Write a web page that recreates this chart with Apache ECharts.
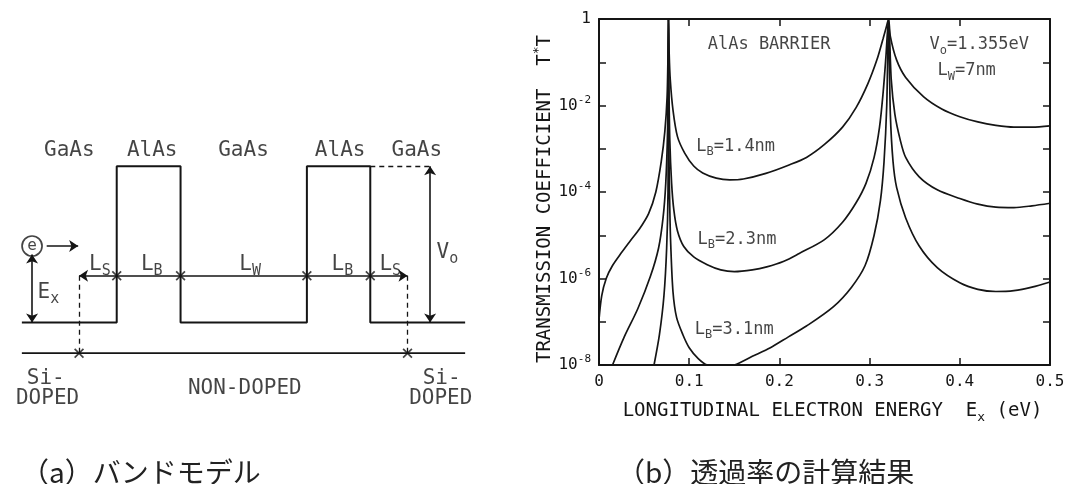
<!DOCTYPE html>
<html>
<head>
<meta charset="utf-8">
<script src="https://cdn.jsdelivr.net/npm/echarts@6/dist/echarts.min.js"></script>
<style>
html, body { margin: 0; padding: 0; background: #fff; }
#chart { width: 1083px; height: 484px; }
</style>
</head>
<body>
<div id="chart"></div>
<script>
// ===== (b) 透過率: energy (eV) / log10(T*T) =====
const energy14 = [0, 0.003, 0.008, 0.015, 0.025, 0.035, 0.045, 0.055, 0.063, 0.069, 0.073, 0.0755, 0.0765, 0.077,
  0.0778, 0.079, 0.082, 0.087, 0.095, 0.105, 0.115, 0.13, 0.145, 0.16, 0.185, 0.21, 0.23, 0.25, 0.27, 0.285, 0.298, 0.308, 0.315, 0.319, 0.321,
  0.323, 0.33, 0.34, 0.36, 0.38, 0.40, 0.42, 0.44, 0.46, 0.48, 0.5]
const logT14 = [-6.95, -6.4, -6.0, -5.7, -5.4, -5.12, -4.85, -4.5, -4.0, -3.3, -2.6, -1.8, -0.8, 0,
  -0.8, -1.4, -2.1, -2.72, -3.1, -3.4, -3.56, -3.68, -3.72, -3.7, -3.57, -3.38, -3.2, -2.9, -2.5, -2.05, -1.5, -0.95, -0.45, -0.15, 0,
  -0.4, -0.95, -1.35, -1.8, -2.08, -2.26, -2.38, -2.46, -2.5, -2.5, -2.47]

const energy23 = [0.015, 0.028, 0.043, 0.057, 0.066, 0.071, 0.074, 0.076, 0.0765, 0.077,
  0.0775, 0.0785, 0.0805, 0.083, 0.087, 0.094, 0.105, 0.12, 0.135, 0.15,
  0.17, 0.186, 0.205, 0.222, 0.25, 0.27, 0.285, 0.296, 0.305, 0.311,
  0.315, 0.318, 0.321, 0.324, 0.328, 0.334, 0.34, 0.355, 0.375, 0.40,
  0.42, 0.44, 0.46, 0.48, 0.5]
const logT23 = [-8, -7.35, -6.7, -5.95, -5.3, -4.6, -3.8, -2.6, -1.5, 0,
  -1.5, -2.8, -3.8, -4.42, -4.9, -5.26, -5.5, -5.68, -5.8, -5.84,
  -5.8, -5.73, -5.6, -5.42, -5.1, -4.7, -4.25, -3.8, -3.2, -2.5,
  -1.7, -0.9, 0, -1.4, -2.2, -2.8, -3.2, -3.65, -3.95, -4.15,
  -4.28, -4.35, -4.36, -4.32, -4.26]

const energy31 = [0.061, 0.067, 0.072, 0.075, 0.0765, 0.077, 0.0775, 0.0785, 0.0795, 0.082,
  0.086, 0.093, 0.1, 0.11, 0.12, 0.135, 0.15, 0.17, 0.19, 0.21,
  0.23, 0.26, 0.28, 0.295, 0.305, 0.312, 0.316, 0.319, 0.321, 0.323,
  0.326, 0.33, 0.34, 0.355, 0.375, 0.40, 0.42, 0.44, 0.46, 0.48, 0.5]
const logT31 = [-8, -7.3, -6.4, -5.3, -4.0, 0, -3.0, -4.4, -5.2, -6.3,
  -6.9, -7.3, -7.6, -7.85, -8, -8.05, -8, -7.8, -7.6, -7.35,
  -7.1, -6.65, -6.2, -5.7, -5.0, -4.2, -3.3, -2.0, 0, -2.2,
  -3.3, -3.9, -4.6, -5.25, -5.75, -6.1, -6.25, -6.3, -6.28, -6.2, -6.08]

const xTickLabels = ['0', '0.1', '0.2', '0.3', '0.4', '0.5']
// index = -exponent
const yTickLabels = ['1', '', '10^{-2}', '', '10^{-4}', '', '10^{-6}', '', '10^{-8}']

// [text, energy, log10 T] (label centres)
const plotNotes = [
  ['AlAs BARRIER', 0.1886, -0.6],
  ['V_{o}=1.355eV', 0.4215, -0.6],
  ['L_{W}=7nm', 0.4076, -1.2],
  ['L_{B}=1.4nm', 0.1515, -2.95],
  ['L_{B}=2.3nm', 0.153, -5.1],
  ['L_{B}=3.1nm', 0.150, -7.17],
]

// ===== (a) バンドモデル: schematic position (0..100) / energy (Vo = 1) =====
const bandX = [0, 21.4, 21.4, 35.8, 35.8, 64.3, 64.3, 78.6, 78.6, 100]
const bandE = [0, 0, 1, 1, 0, 0, 1, 1, 0, 0]
const dimE = 0.30            // L_S / L_B / L_W dimension line
const dopeE = -0.196         // doping line
const spacerX = [12.9, 87.0] // ends of the non-doped region
const voX = 92.1
const exX = 2.3
const exTop = 0.435
const electron = [2.3, 0.49]
const electronArrow = [5.6, 12.7]
const crossMarks = [[21.4, dimE], [35.8, dimE], [64.3, dimE], [78.6, dimE], [12.9, dopeE], [87.0, dopeE]]
const diagramLabels = [
  ['GaAs', 10.7, 1.10], ['AlAs', 29.4, 1.10], ['GaAs', 50.0, 1.10], ['AlAs', 71.8, 1.10], ['GaAs', 89.1, 1.10],
  ['L_{S}', 17.6, 0.37], ['L_{B}', 29.3, 0.37], ['L_{W}', 51.5, 0.37], ['L_{B}', 72.3, 0.37], ['L_{S}', 83.1, 0.37],
  ['E_{x}', 6.0, 0.19], ['V_{o}', 96.0, 0.447],
  ['Si-', 5.4, -0.355], ['DOPED', 5.8, -0.483],
  ['NON-DOPED', 50.3, -0.42],
  ['Si-', 94.7, -0.355], ['DOPED', 94.5, -0.483],
]

const captions = ['（a）バンドモデル', '（b）透過率の計算結果']

const INK = '#151515'
const FONT = '"DejaVu Sans Mono", monospace'

// 'L_{B}=1.4nm' -> rich text tokens
function toRich(s) {
  let out = ''
  let last = 0
  s.replace(/([_^])\{([^}]*)\}/g, (m, k, t, i) => {
    if (i > last) out += `{m|${s.slice(last, i)}}`
    out += `{${k === '_' ? 's' : 'p'}|${t}}`
    last = i + m.length
    return m
  })
  if (last < s.length) out += `{m|${s.slice(last)}}`
  return out
}

function richStyles(size) {
  const small = Math.round(size * 0.7)
  return {
    m: { fontSize: size, fontFamily: FONT, color: INK, padding: [3, 0, 3, 0] },
    s: { fontSize: small, fontFamily: FONT, color: INK, verticalAlign: 'bottom' },
    p: { fontSize: small, fontFamily: FONT, color: INK, verticalAlign: 'top' },
  }
}

function textSeries(rows, xIdx, yIdx, size) {
  return {
    type: 'scatter',
    xAxisIndex: xIdx,
    yAxisIndex: yIdx,
    silent: true,
    symbolSize: 1,
    itemStyle: { color: 'transparent' },
    data: rows.map(r => ({ value: [r[1], r[2]], name: r[0] })),
    label: {
      show: true,
      position: 'inside',
      formatter: p => toRich(p.name),
      rich: richStyles(size),
    },
  }
}

const arrow = (a, b, heads) => [
  { coord: a, symbol: heads[0], symbolSize: 9 },
  { coord: b, symbol: heads[1], symbolSize: 9 },
]

const chart = echarts.init(document.getElementById('chart'))

const plotAxisX = (pos, labels) => ({
  gridIndex: 1, type: 'value', position: pos, min: 0, max: 0.5, interval: 0.1,
  axisLine: { onZero: false, lineStyle: { color: INK, width: 2 } },
  axisTick: { inside: true, length: 7, lineStyle: { color: INK, width: 1.5 } },
  axisLabel: labels
    ? { show: true, margin: 9, fontSize: 16, fontFamily: FONT, color: INK, formatter: v => xTickLabels[Math.round(v * 10)] }
    : { show: false },
  splitLine: { show: false },
})

const plotAxisY = (pos, labels) => ({
  gridIndex: 1, type: 'value', position: pos, min: -8, max: 0, interval: 1,
  axisLine: { onZero: false, lineStyle: { color: INK, width: 2 } },
  axisTick: { inside: true, length: 7, lineStyle: { color: INK, width: 1.5 } },
  axisLabel: labels
    ? { show: true, margin: 8, formatter: v => toRich(yTickLabels[Math.round(-v)]), rich: richStyles(16) }
    : { show: false },
  splitLine: { show: false },
})

const curve = (xs, ys) => ({
  type: 'line', xAxisIndex: 1, yAxisIndex: 1, silent: true,
  data: xs.map((x, i) => [x, ys[i]]),
  symbol: 'none', smooth: 0.3, clip: true,
  lineStyle: { color: INK, width: 1.7 },
})

const captionStyle = { fontFamily: '"Noto Sans CJK JP"', fontSize: 28, fontWeight: 'normal', color: '#222' }

const option = {
  animation: false,
  backgroundColor: '#fff',
  title: [
    { text: captions[0], left: 21, top: 458, padding: 0, textStyle: captionStyle },
    { text: captions[1], left: 617, top: 458, padding: 0, textStyle: captionStyle },
  ],
  grid: [
    { left: 13, top: 135, width: 461, height: 297 },
    { left: 599, top: 19, width: 451, height: 346 },
  ],
  xAxis: [
    { gridIndex: 0, type: 'value', min: -2, max: 102, show: false },
    Object.assign(plotAxisX('bottom', true), {
      name: toRich('LONGITUDINAL ELECTRON ENERGY  E_{x} (eV)'),
      nameLocation: 'middle', nameGap: 34,
      nameTextStyle: { rich: richStyles(19), padding: [0, 0, 0, 16] },
    }),
    plotAxisX('top', false),
  ],
  yAxis: [
    { gridIndex: 0, type: 'value', min: -0.7, max: 1.2, show: false },
    Object.assign(plotAxisY('left', true), {
      name: toRich('TRANSMISSION COEFFICIENT  T^{*}T'),
      nameLocation: 'middle', nameGap: 35, nameRotate: 90,
      nameTextStyle: { rich: richStyles(19), padding: [0, 14, 0, 0] },
    }),
    plotAxisY('right', false),
  ],
  series: [
    // band profile + arrows
    {
      type: 'line', xAxisIndex: 0, yAxisIndex: 0, silent: true,
      data: bandX.map((x, i) => [x, bandE[i]]),
      symbol: 'none', lineStyle: { color: INK, width: 2 },
      markLine: {
        silent: true,
        label: { show: false },
        lineStyle: { color: INK, width: 1.6, type: 'solid' },
        data: [
          arrow([spacerX[0], dimE], [spacerX[1], dimE], ['arrow', 'arrow']),
          arrow([voX, 0], [voX, 1], ['arrow', 'arrow']),
          arrow([exX, 0], [exX, exTop], ['arrow', 'arrow']),
          arrow([electronArrow[0], electron[1]], [electronArrow[1], electron[1]], ['none', 'arrow']),
        ],
      },
    },
    // doping line
    {
      type: 'line', xAxisIndex: 0, yAxisIndex: 0, silent: true,
      data: [[0, dopeE], [100, dopeE]],
      symbol: 'none', lineStyle: { color: INK, width: 1.8 },
      markLine: {
        silent: true, symbol: 'none',
        label: { show: false },
        lineStyle: { color: INK, width: 1.3, type: [5, 4] },
        data: [
          [{ coord: [spacerX[0], dimE] }, { coord: [spacerX[0], dopeE] }],
          [{ coord: [spacerX[1], dimE] }, { coord: [spacerX[1], dopeE] }],
          [{ coord: [bandX[7], 1] }, { coord: [voX, 1] }],
        ],
      },
    },
    // boundary crosses
    {
      type: 'scatter', xAxisIndex: 0, yAxisIndex: 0, silent: true,
      data: crossMarks,
      symbol: 'path://M0,1.2L1.2,0L5,3.8L8.8,0L10,1.2L6.2,5L10,8.8L8.8,10L5,6.2L1.2,10L0,8.8L3.8,5Z',
      symbolSize: 10, itemStyle: { color: INK },
    },
    // electron
    {
      type: 'scatter', xAxisIndex: 0, yAxisIndex: 0, silent: true,
      data: [electron], symbol: 'circle', symbolSize: 20,
      itemStyle: { color: '#fff', borderColor: INK, borderWidth: 1.7 },
      label: { show: true, position: 'inside', formatter: 'e', fontFamily: FONT, fontSize: 16, color: INK },
    },
    textSeries(diagramLabels, 0, 0, 21),
    // transmission curves
    curve(energy14, logT14),
    curve(energy23, logT23),
    curve(energy31, logT31),
    textSeries(plotNotes, 1, 1, 17),
  ],
}

chart.setOption(option)
</script>
</body>
</html>
